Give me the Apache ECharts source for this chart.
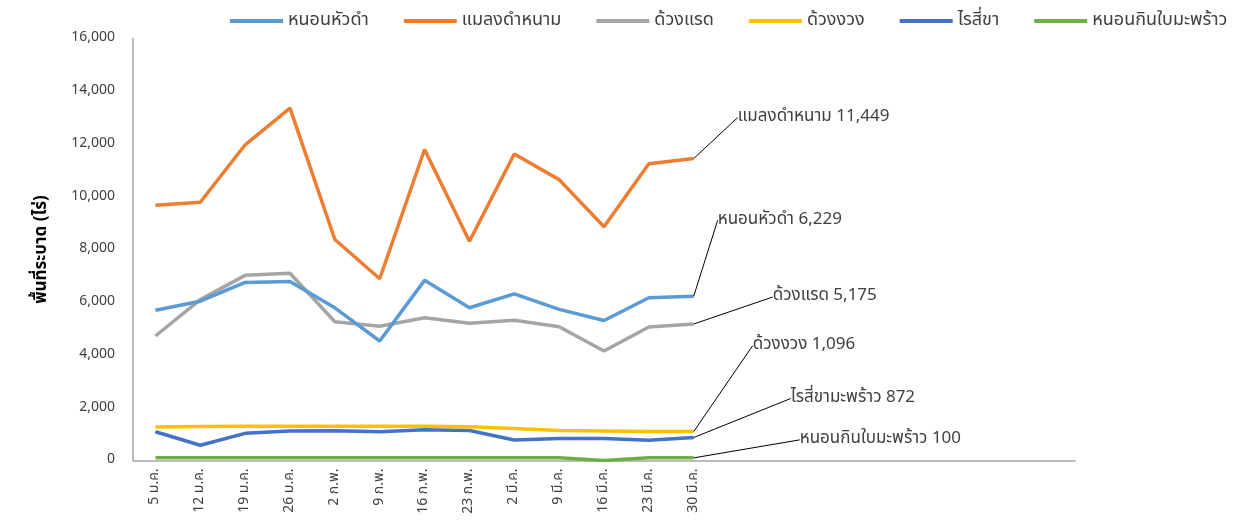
<!DOCTYPE html>
<html>
<head>
<meta charset="utf-8">
<script src="https://cdn.jsdelivr.net/npm/echarts@6/dist/echarts.min.js"></script>
<style>
  html, body { margin: 0; padding: 0; background: #fff; }
  #main { width: 1237px; height: 521px; }
</style>
</head>
<body>
<div id="main"></div>
<script>
// week labels (empty slots keep the axis running past the last week)
var weeks = ['5 ม.ค.', '12 ม.ค.', '19 ม.ค.', '26 ม.ค.', '2 ก.พ.', '9 ก.พ.', '16 ก.พ.',
    '23 ก.พ.', '2 มี.ค.', '9 มี.ค.', '16 มี.ค.', '23 มี.ค.', '30 มี.ค.',
    '', '', '', '', '', '', '', ''];

var seriesNames = ['หนอนหัวดำ', 'แมลงดำหนาม', 'ด้วงแรด', 'ด้วงงวง', 'ไรสี่ขา', 'หนอนกินใบมะพร้าว'];
var endNames = ['หนอนหัวดำ', 'แมลงดำหนาม', 'ด้วงแรด', 'ด้วงงวง', 'ไรสี่ขามะพร้าว', 'หนอนกินใบมะพร้าว'];

var blackHead = [5700, 6040, 6750, 6790, 5790, 4530, 6830, 5790, 6320, 5730, 5310, 6170, 6229];
var beetle = [9680, 9790, 11970, 13360, 8380, 6890, 11790, 8310, 11620, 10650, 8860, 11250, 11449];
var rhino = [4720, 6100, 7020, 7100, 5260, 5090, 5410, 5200, 5320, 5070, 4150, 5060, 5175];
var weevil = [1270, 1290, 1300, 1300, 1300, 1300, 1300, 1280, 1210, 1140, 1120, 1100, 1096];
var mite = [1090, 580, 1030, 1120, 1130, 1090, 1170, 1140, 780, 830, 830, 770, 872];
var leafWorm = [100, 100, 100, 100, 100, 100, 100, 100, 100, 100, 0, 100, 100];

var allData = [blackHead, beetle, rhino, weevil, mite, leafWorm];
var colors = ['#5b9bd5', '#ed7d31', '#a5a5a5', '#ffc000', '#4472c4', '#70ad47'];
// where the end labels sit relative to the last point
var labelShift = [[19, -76], [39, -41], [74, -27], [54, -86], [92, -39], [101, -18]];

var font = 'Tahoma, "Noto Sans Thai", "Noto Sans", sans-serif';

function fmt(v) {
    return v.toString().replace(/\B(?=(\d{3})+(?!\d))/g, ',');
}

var series = allData.map(function (vals, s) {
    var last = vals.length - 1;
    return {
        name: seriesNames[s],
        type: 'line',
        showSymbol: true,
        symbol: 'circle',
        symbolSize: 0,
        lineStyle: { width: 3.5, color: colors[s] },
        itemStyle: { color: colors[s] },
        z: 10 - s,
        label: {
            show: false,
            position: 'right',
            fontFamily: font,
            fontSize: 17,
            color: '#404040',
            formatter: function (p) {
                return endNames[s] + ' ' + fmt(p.value);
            }
        },
        labelLine: {
            show: true,
            lineStyle: { color: '#000', width: 1 }
        },
        labelLayout: { dx: labelShift[s][0], dy: labelShift[s][1] },
        emphasis: { disabled: true },
        data: vals.map(function (v, i) {
            if (i === last) {
                return { value: v, label: { show: true }, labelLine: { show: true } };
            }
            return v;
        })
    };
});

var myChart = echarts.init(document.getElementById('main'));
myChart.setOption({
    animation: false,
    color: colors,
    textStyle: { fontFamily: font },
    legend: {
        top: 7,
        left: 225,
        itemWidth: 53,
        itemHeight: 4,
        itemGap: 35,
        icon: 'rect',
        textStyle: { fontSize: 18, color: '#404040', fontFamily: font },
        data: seriesNames
    },
    grid: {
        left: 133,
        right: 162,
        top: 38.5,
        bottom: 60.5
    },
    xAxis: {
        type: 'category',
        data: weeks,
        boundaryGap: true,
        axisLine: { lineStyle: { color: '#a6a6a6', width: 1.5 } },
        axisTick: { show: false },
        axisLabel: {
            rotate: 90,
            interval: 0,
            margin: 8,
            fontSize: 14,
            color: '#404040',
            fontFamily: font
        }
    },
    yAxis: {
        type: 'value',
        min: 0,
        max: 16000,
        interval: 2000,
        name: 'พื้นที่ระบาด (ไร่)',
        nameLocation: 'middle',
        nameRotate: 90,
        nameGap: 82,
        nameTextStyle: { fontSize: 17, fontWeight: 'bold', color: '#000', fontFamily: font },
        axisLine: { show: true, lineStyle: { color: '#a6a6a6', width: 1.5 } },
        axisTick: { show: false },
        splitLine: { show: false },
        axisLabel: {
            margin: 18,
            fontSize: 14,
            color: '#404040',
            fontFamily: font,
            formatter: function (v) { return fmt(v); }
        }
    },
    series: series
});
</script>
</body>
</html>
